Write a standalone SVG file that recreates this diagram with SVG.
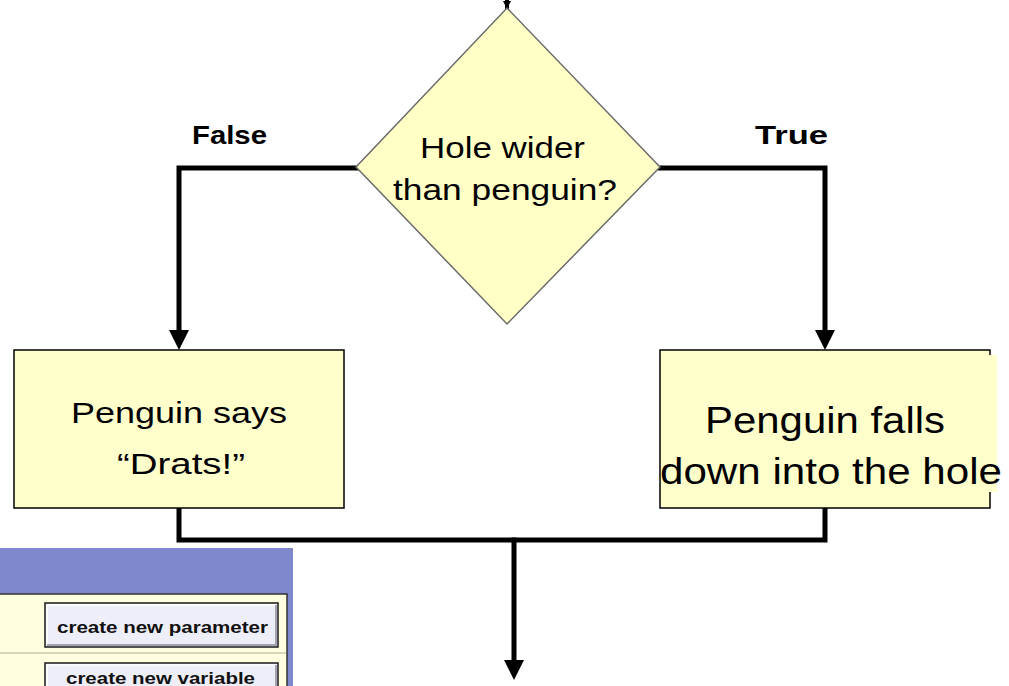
<svg xmlns="http://www.w3.org/2000/svg" width="1009" height="686" viewBox="0 0 1009 686">
<defs>
<style>
.line{fill:none;stroke:#000;stroke-width:5;stroke-linejoin:miter;stroke-linecap:square}
.box{fill:#FFFFCC;stroke:#000;stroke-width:1.5}
.dia{fill:#FFFFC6;stroke:#6b6b6b;stroke-width:1.5}
.t{font-family:"Liberation Sans",Arial,sans-serif;fill:#000}
.lbl{font-family:"Liberation Sans",Arial,sans-serif;font-weight:bold;fill:#000}
.btn{fill:#EEEEF8;stroke:#1a1a1a;stroke-width:1.5}
.btxt{font-family:"Liberation Sans",Arial,sans-serif;font-weight:bold;font-size:17px;fill:#111}
</style>
<marker id="ah" markerUnits="userSpaceOnUse" markerWidth="20" markerHeight="20" viewBox="0 0 20 20" refX="10" refY="10" orient="auto">
<path d="M0,0 L20,10 L0,20 Z" fill="#000"/>
</marker>
<marker id="ahs" markerUnits="userSpaceOnUse" markerWidth="8" markerHeight="8" viewBox="0 0 8 8" refX="8" refY="4" orient="auto">
<path d="M0,0 L8,4 L0,8 Z" fill="#000"/>
</marker>
</defs>
<rect width="1009" height="686" fill="#fff"/>

<g id="inset">
<rect x="0" y="548" width="293" height="138" fill="#7F88CD"/>
<rect x="-2" y="594" width="289" height="94" fill="#FFFFE0" stroke="#333" stroke-width="1.5"/>
<line x1="0" y1="653" x2="286" y2="653" stroke="#c8c8b0" stroke-width="1.5"/>
<g id="btn-param">
<rect class="btn" x="45" y="603" width="233" height="44"/>
<path d="M47,645 L47,605 L276,605" fill="none" stroke="#fff" stroke-width="1.5"/>
<path d="M47,645 L276,645 L276,605" fill="none" stroke="#8a8a9a" stroke-width="1.5"/>
<text class="btxt" x="57" y="633" textLength="211" lengthAdjust="spacingAndGlyphs">create new parameter</text>
</g>
<g id="btn-var">
<rect class="btn" x="45" y="663" width="233" height="40"/>
<path d="M47,700 L47,665 L276,665" fill="none" stroke="#fff" stroke-width="1.5"/>
<path d="M276,665 L276,700" fill="none" stroke="#8a8a9a" stroke-width="1.5"/>
<text class="btxt" x="66" y="684" textLength="189" lengthAdjust="spacingAndGlyphs">create new variable</text>
</g>
</g>

<g id="connectors">
<path class="line" d="M507,0 L507,9" marker-end="url(#ahs)" style="stroke-width:4"/>
<path class="line" d="M356,168 L179,168 L179,340" marker-end="url(#ah)"/>
<path class="line" d="M660,168 L825,168 L825,340" marker-end="url(#ah)"/>
<path class="line" d="M179,510 L179,540 L825,540 L825,510"/>
<path class="line" d="M514,540 L514,670" marker-end="url(#ah)"/>
</g>

<g id="decision">
<polygon class="dia" points="507,8 660,167 507,324 356,167"/>
<text class="t" x="420" y="158" font-size="30" textLength="165" lengthAdjust="spacingAndGlyphs">Hole wider</text>
<text class="t" x="393" y="200" font-size="30" textLength="224" lengthAdjust="spacingAndGlyphs">than penguin?</text>
</g>

<g id="label-false">
<text class="lbl" x="192" y="144" font-size="26" textLength="75" lengthAdjust="spacingAndGlyphs">False</text>
</g>
<g id="label-true">
<text class="lbl" x="755" y="144" font-size="26" textLength="73" lengthAdjust="spacingAndGlyphs">True</text>
</g>

<g id="box-drats">
<rect class="box" x="14" y="350" width="330" height="158"/>
<text class="t" x="71" y="423" font-size="30" textLength="216" lengthAdjust="spacingAndGlyphs">Penguin says</text>
<text class="t" x="117" y="474" font-size="30" textLength="128" lengthAdjust="spacingAndGlyphs">“Drats!”</text>
</g>

<g id="box-falls">
<rect class="box" x="660" y="350" width="330" height="158"/>
<rect x="661" y="355" width="336" height="137" fill="#FFFFCC"/>
<text class="t" x="705" y="433" font-size="36" textLength="240" lengthAdjust="spacingAndGlyphs">Penguin falls</text>
<text class="t" x="660" y="484" font-size="36" textLength="342" lengthAdjust="spacingAndGlyphs">down into the hole</text>
</g>
</svg>
